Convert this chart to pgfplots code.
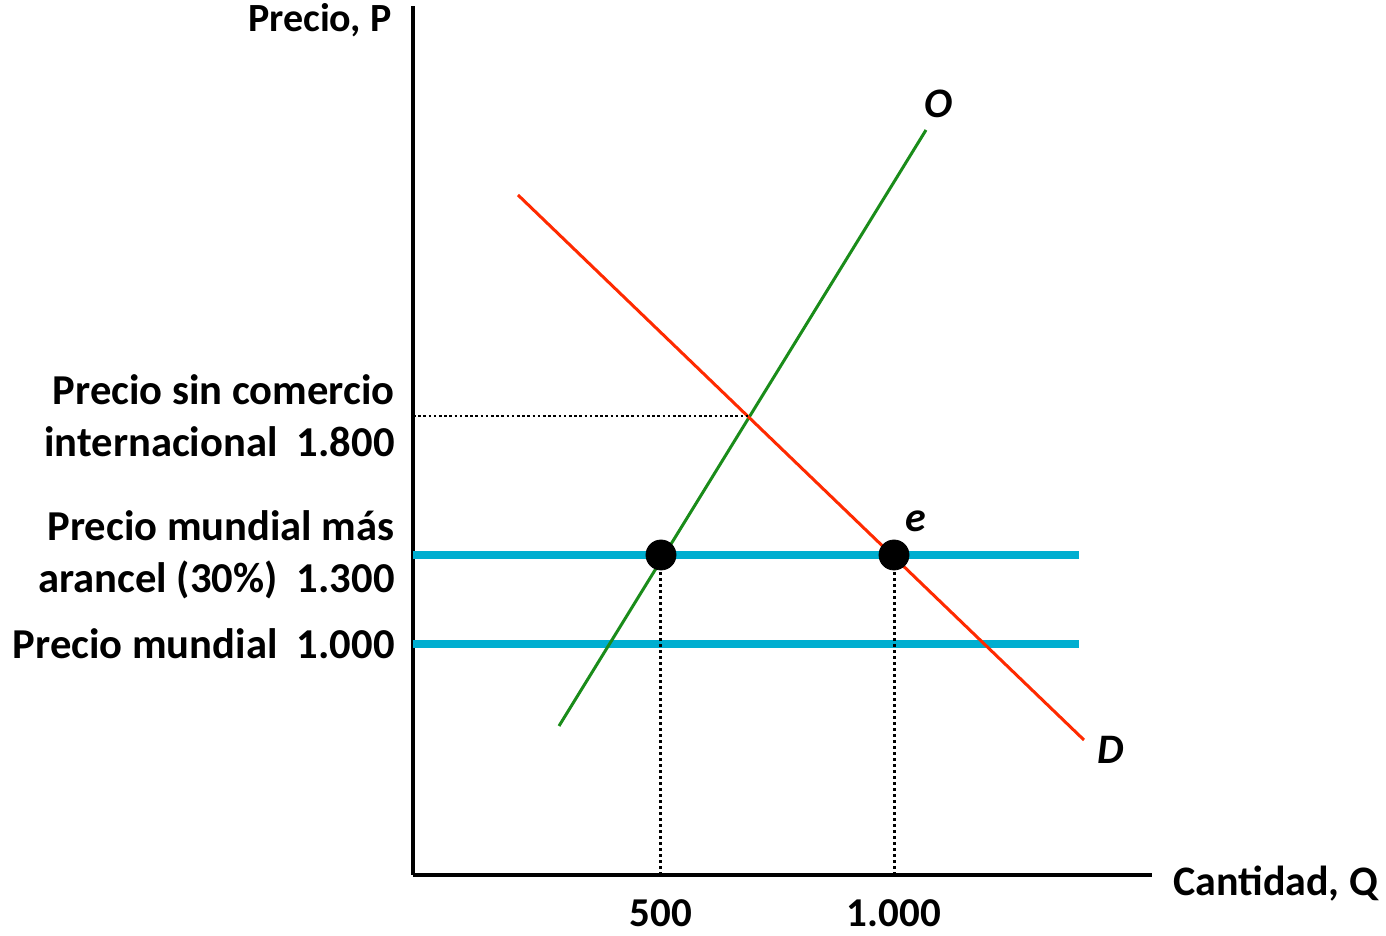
\documentclass[border=0pt]{standalone}
\usepackage{fontspec}
\setmainfont{Carlito}
\usepackage{pgfplots}
\pgfplotsset{compat=1.18}
\definecolor{dred}{HTML}{FF2A00}
\definecolor{dgreen}{HTML}{1A8C1A}
\definecolor{dblue}{HTML}{00AED0}
\begin{document}
\begin{tikzpicture}
\begin{axis}[
  x=0.5pt, y=0.5pt,
  xmin=413, xmax=1152, ymin=61, ymax=930,
  enlargelimits=false,
  axis lines=left,
  axis line style={-, line width=2pt, black},
  clip=false,
  xtick={661,894}, xticklabels={500,1.000},
  ytick={292,381,520},
  yticklabels={{Precio mundial~~1.000},{Precio mundial más\\arancel (30\%)~~1.300},{Precio sin comercio\\internacional~~1.800}},
  major tick length=0pt,
  tick style={draw=none},
  xticklabel style={font=\fontsize{20.5}{24}\selectfont\bfseries, inner sep=0pt, anchor=north, yshift=-12pt},
  yticklabel style={font=\fontsize{21.3}{25.8}\selectfont\bfseries, inner sep=0pt, anchor=east, align=right, xshift=-9pt},
]
\addplot[dblue, line width=4pt] coordinates {(413,292) (1079,292)};
\addplot[dblue, line width=4pt] coordinates {(413,381) (1079,381)};
\addplot[dgreen, line width=1.5pt] coordinates {(559,210) (926,806)};
\addplot[dred, line width=1.5pt] coordinates {(518,741) (1084,196)};
\addplot[black, line width=1.3pt, dash pattern=on 1.3pt off 1.3pt] coordinates {(413,520) (748,520)};
\addplot[black, line width=1.5pt, dash pattern=on 1.5pt off 1.5pt] coordinates {(661,61) (661,381)};
\addplot[black, line width=1.5pt, dash pattern=on 1.5pt off 1.5pt] coordinates {(894,61) (894,381)};
\addplot[only marks, mark=*, mark size=7.5pt, black] coordinates {(661,381) (894,381)};
\node[anchor=base east, font=\fontsize{20}{23}\selectfont\bfseries, inner sep=0pt] at (axis cs:392,904) {Precio, P};
\node[anchor=base west, font=\fontsize{21}{25}\selectfont\bfseries, inner sep=0pt] at (axis cs:1173,40) {Cantidad, Q};
\node[anchor=base west, font=\fontsize{21}{24}\selectfont\bfseries\itshape, inner sep=0pt] at (axis cs:924,818) {O};
\node[anchor=base west, font=\fontsize{21}{24}\selectfont\bfseries\itshape, inner sep=0pt] at (axis cs:1097,172) {D};
\node[anchor=base west, font=\fontsize{21}{24}\selectfont\bfseries\itshape, inner sep=0pt] at (axis cs:905,404) {e};
\path (axis cs:0,0) (axis cs:1386,936);
\end{axis}
\end{tikzpicture}
\end{document}
